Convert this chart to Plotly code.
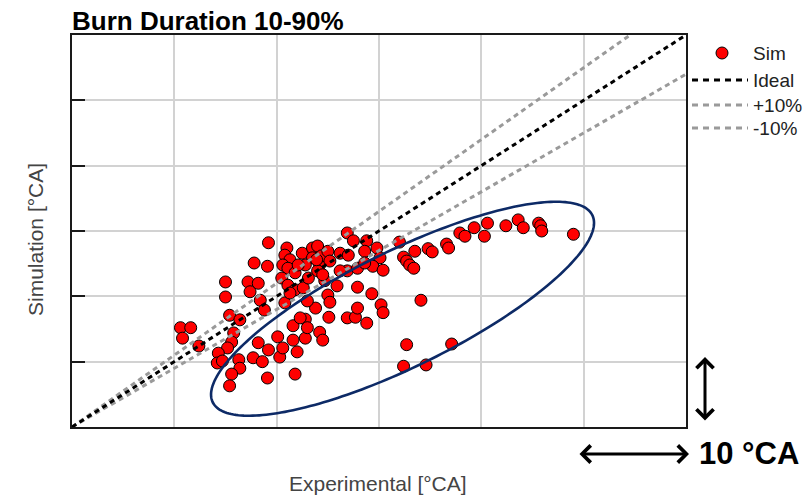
import numpy as np
import plotly.graph_objects as go

# ---------------- data ----------------
experimental = [
    10.6, 11.6, 10.8, 12.4, 15.0, 15.0, 17.2, 18.2, 17.4, 17.8,
    15.4, 16.4, 15.8, 15.6, 15.2, 14.3, 14.2, 14.7, 16.3, 16.4,
    17.7, 18.2, 18.6, 15.6, 15.4, 18.4, 18.8, 19.2, 19.1, 19.1,
    21.8, 19.2, 20.3, 20.1, 20.6, 21.6, 22.0, 22.8, 21.6, 22.8,
    23.0, 23.8, 24.2, 24.5, 25.1, 26.9, 27.7, 27.9, 28.8, 29.3,
    30.2, 30.4, 27.9, 25.0, 25.2, 22.3, 20.8, 23.0, 21.0, 20.8,
    21.3, 20.6, 21.1, 21.8, 20.5, 21.1, 21.8, 21.3, 22.6, 22.5,
    23.5, 24.0, 23.5, 22.8, 23.1, 24.2, 24.4, 25.0, 25.2, 24.0,
    24.7, 25.9, 26.2, 26.9, 27.5, 27.0, 26.9, 27.9, 28.8, 28.6,
    29.8, 30.1, 29.4, 30.4, 28.6, 22.1, 23.9, 24.5, 26.2, 32.0,
    32.4, 32.7, 33.0, 33.4, 33.5, 34.8, 35.2, 36.6, 36.8, 37.9,
    38.4, 39.3, 40.6, 40.3, 42.4, 43.6, 44.1, 45.6, 45.8, 45.9,
    49.0, 34.1, 32.7, 32.4, 34.6, 37.1,
]
simulation = [
    15.2, 15.2, 13.6, 12.4, 22.2, 19.9, 22.2, 22.0, 20.7, 25.1,
    17.1, 16.4, 14.4, 13.0, 12.1, 11.3, 9.8, 10.1, 10.3, 9.0,
    10.6, 12.9, 10.0, 8.1, 6.3, 19.4, 17.9, 28.2, 24.6, 7.5,
    8.1, 11.8, 10.7, 13.8, 12.1, 13.3, 11.5, 13.6, 15.5, 16.5,
    15.2, 18.2, 14.5, 13.3, 16.8, 16.7, 16.8, 18.2, 15.9, 20.4,
    18.7, 17.5, 21.4, 20.2, 19.1, 16.7, 19.0, 19.3, 27.4, 26.3,
    25.6, 24.8, 24.3, 23.6, 22.8, 21.7, 21.0, 20.5, 21.3, 26.6,
    27.4, 27.7, 25.9, 24.8, 22.8, 24.8, 26.2, 26.9, 25.4, 23.9,
    22.4, 21.6, 26.6, 29.7, 28.5, 26.3, 23.9, 24.3, 28.5, 26.9,
    27.4, 25.9, 24.6, 24.0, 25.1, 24.8, 25.6, 23.3, 23.9, 28.3,
    26.0, 25.4, 24.8, 24.3, 26.9, 27.3, 26.8, 28.0, 27.4, 29.7,
    29.2, 30.5, 31.2, 29.2, 30.8, 31.7, 30.5, 31.2, 30.8, 30.0,
    29.5, 19.4, 12.6, 9.3, 9.5, 12.7,
]

axis_range = [0, 60]
grid_step = 10
line_x = [0, 60]
ideal_factor = 1.0
plus_factor = 1.1
minus_factor = 0.9

legend_labels = ["Sim", "Ideal", "+10%", "-10%"]

# ---------------- layout constants ----------------
W, H = 811, 495
ML, MR, MT, MB = 72, 125, 35, 68
PW, PH = W - ML - MR, H - MT - MB

RED = "#ff0000"
GRAY = "#9a9a9a"
NAVY = "#0d2a66"
FONT = "Liberation Sans, Arial, sans-serif"


def px(xp):
    return (xp - ML) / PW


def py(yp):
    return (H - MB - yp) / PH


fig = go.Figure()

fig.add_trace(go.Scatter(
    x=experimental, y=simulation, mode="markers", name="Sim",
    marker=dict(color=RED, size=12, line=dict(color="black", width=1)),
    showlegend=False,
))

for fac, col, nm in [(minus_factor, GRAY, "-10%"), (plus_factor, GRAY, "+10%"),
                     (ideal_factor, "black", "Ideal")]:
    fig.add_trace(go.Scatter(
        x=line_x, y=[fac * v for v in line_x], mode="lines", name=nm,
        line=dict(color=col, width=3, dash="5px,4px"), showlegend=False,
    ))

# ellipse highlighting the under-predicted cluster
ell_cx, ell_cy = 32.3, 18.1
ell_a_px, ell_b_px, ell_angle = 211.6, 57.8, 26.25
sx = PW / (axis_range[1] - axis_range[0])
sy = PH / (axis_range[1] - axis_range[0])
t = np.linspace(0, 2 * np.pi, 240)
th = np.radians(ell_angle)
dxp = ell_a_px * np.cos(t) * np.cos(th) - ell_b_px * np.sin(t) * np.sin(th)
dyp = ell_a_px * np.cos(t) * np.sin(th) + ell_b_px * np.sin(t) * np.cos(th)
ex = ell_cx + dxp / sx
ey = ell_cy + dyp / sy
path = "M" + " L".join(f"{a:.3f},{b:.3f}" for a, b in zip(ex, ey)) + " Z"

shapes = [dict(type="path", path=path, xref="x", yref="y",
               line=dict(color=NAVY, width=2.6), layer="above")]

# custom legend
shapes.append(dict(type="circle", xref="paper", yref="paper",
                   x0=px(716), x1=px(728), y0=py(59), y1=py(47),
                   fillcolor=RED, line=dict(color="black", width=1)))
leg_rows = [80, 105, 128]
leg_cols = ["black", GRAY, GRAY]
for yy, cc in zip(leg_rows, leg_cols):
    shapes.append(dict(type="line", xref="paper", yref="paper",
                       x0=px(692), x1=px(748), y0=py(yy), y1=py(yy),
                       line=dict(color=cc, width=3, dash="6px,5px")))

annotations = []
for lab, yy in zip(legend_labels, [53] + leg_rows):
    annotations.append(dict(text=lab, xref="paper", yref="paper",
                            x=px(751), y=py(yy), xanchor="left", yanchor="middle",
                            showarrow=False, font=dict(family=FONT, size=19, color="#222222")))

# axis titles
annotations.append(dict(text="Experimental [°CA]", xref="paper", yref="paper",
                        x=px(378), y=py(483), xanchor="center", yanchor="middle",
                        showarrow=False, font=dict(family=FONT, size=21, color="#444444")))
annotations.append(dict(text="Simulation [°CA]", xref="paper", yref="paper",
                        x=px(35), y=py(240), xanchor="center", yanchor="middle",
                        textangle=-90, showarrow=False,
                        font=dict(family=FONT, size=21, color="#444444")))

# scale arrows
annotations.append(dict(text="", xref="paper", yref="paper", x=px(689), y=py(454),
                        ax=-111, ay=0, axref="pixel", ayref="pixel",
                        showarrow=True, arrowhead=4, arrowside="end+start",
                        arrowsize=1.1, arrowwidth=3, arrowcolor="black"))
annotations.append(dict(text="", xref="paper", yref="paper", x=px(705), y=py(357),
                        ax=0, ay=65, axref="pixel", ayref="pixel",
                        showarrow=True, arrowhead=4, arrowside="end+start",
                        arrowsize=1.1, arrowwidth=3, arrowcolor="black"))
annotations.append(dict(text="<b>10 °CA</b>", xref="paper", yref="paper",
                        x=px(697), y=py(453), xanchor="left", yanchor="middle",
                        showarrow=False, font=dict(family=FONT, size=31, color="black")))

fig.update_layout(
    width=W, height=H,
    margin=dict(l=ML, r=MR, t=MT, b=MB),
    paper_bgcolor="white", plot_bgcolor="white",
    showlegend=False,
    title=dict(text="<b>Burn Duration 10-90%</b>", x=ML / W, xanchor="left",
               xref="container", y=1 - 21 / H, yanchor="middle",
               font=dict(family=FONT, size=26, color="black")),
    shapes=shapes, annotations=annotations,
)

axis_common = dict(range=axis_range, dtick=grid_step, tick0=0,
                   showgrid=True, gridcolor="#d2d2d2", gridwidth=2,
                   zeroline=False, showticklabels=False,
                   showline=True, linecolor="#1a1a1a", linewidth=2, mirror=True,
                   fixedrange=True)
fig.update_xaxes(**axis_common, ticks="")
fig.update_yaxes(**axis_common, ticks="inside", ticklen=13, tickwidth=2, tickcolor="#1a1a1a")

fig.write_html("out.html")
